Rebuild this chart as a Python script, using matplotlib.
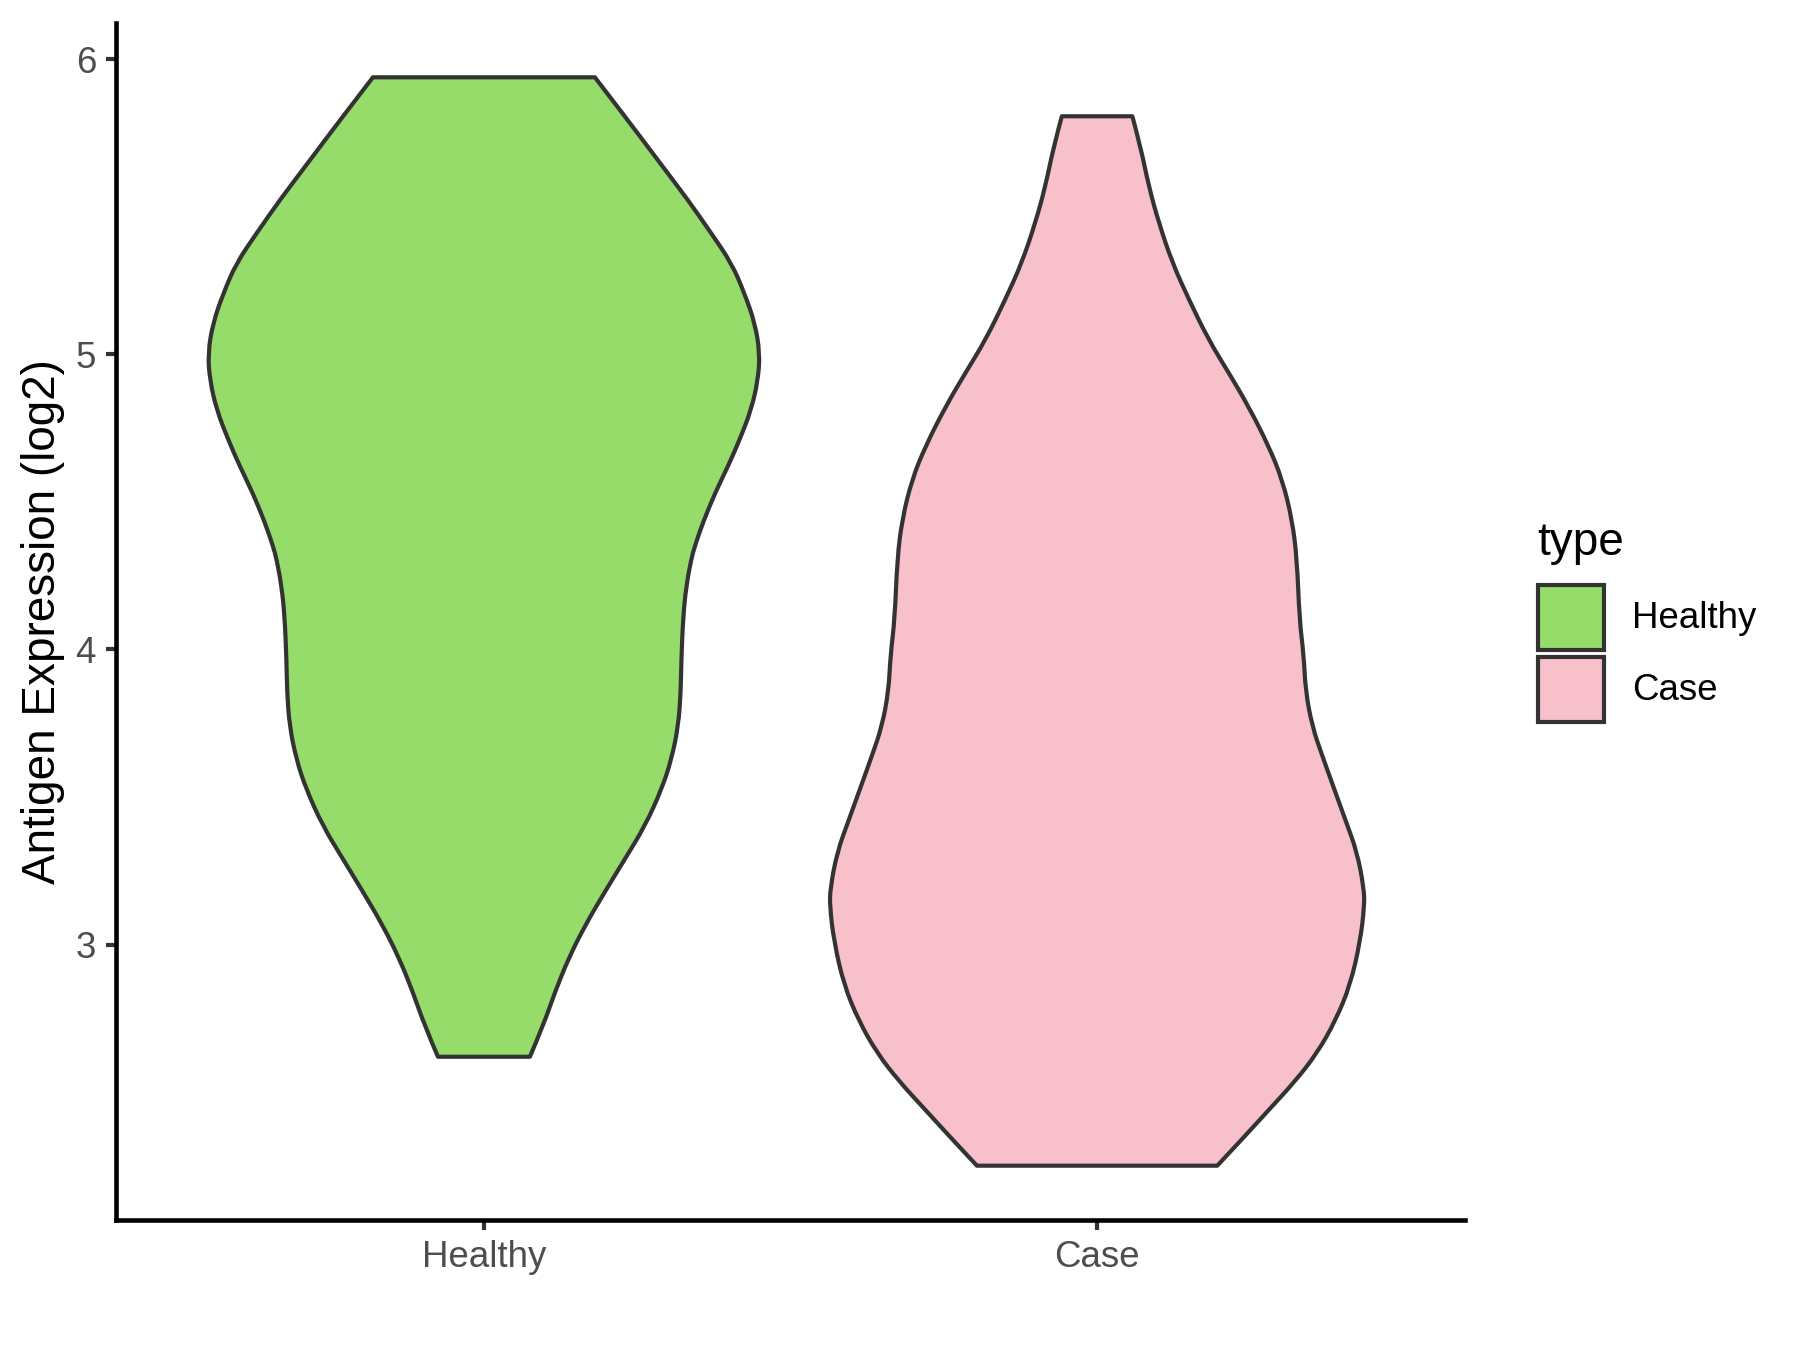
import matplotlib
matplotlib.use("Agg")
import matplotlib.pyplot as plt
from matplotlib.patches import Rectangle, PathPatch
from matplotlib.path import Path
import numpy as np

# ---------------- data ----------------
categories = ["Healthy", "Case"]
fill_colors = ["#95DC6B", "#F7C0CB"]
y_ticks = [3, 4, 5, 6]
y_label = "Antigen Expression (log2)"
legend_title = "type"

# violin outline: y value and half-width (in category units), top to bottom
healthy_y = [5.938, 5.792, 5.640, 5.522, 5.409, 5.308, 5.206, 5.105, 5.003,
             4.913, 4.812, 4.710, 4.620, 4.530, 4.429, 4.350, 4.305, 4.214,
             4.113, 3.967, 3.854, 3.741, 3.628, 3.527, 3.403, 3.290, 3.178,
             3.065, 2.953, 2.840, 2.727, 2.620]
healthy_halfwidth = [0.181, 0.235, 0.290, 0.333, 0.371, 0.404, 0.425, 0.442,
                     0.450, 0.447, 0.436, 0.417, 0.398, 0.377, 0.357, 0.344,
                     0.338, 0.330, 0.325, 0.322, 0.321, 0.317, 0.306, 0.290,
                     0.263, 0.230, 0.197, 0.165, 0.138, 0.116, 0.097, 0.075]

case_y = [5.806, 5.702, 5.567, 5.443, 5.308, 5.184, 5.048, 4.936, 4.823,
          4.688, 4.575, 4.440, 4.305, 4.102, 3.980, 3.859, 3.738, 3.641,
          3.531, 3.422, 3.313, 3.192, 3.131, 3.010, 2.864, 2.743, 2.633,
          2.537, 2.440, 2.342, 2.251]
case_halfwidth = [0.0575, 0.071, 0.0845, 0.101, 0.123, 0.150, 0.182, 0.215,
                  0.247, 0.280, 0.302, 0.318, 0.326, 0.330, 0.337, 0.340,
                  0.351, 0.367, 0.386, 0.405, 0.424, 0.435, 0.436, 0.429,
                  0.413, 0.389, 0.359, 0.323, 0.280, 0.237, 0.196]


def smooth_edge(pts):
    """Quadratic-Bezier path pieces through the first/last point, using the
    inner points as control points (rendering only)."""
    verts, codes = [], []
    n = len(pts)
    for i in range(1, n - 1):
        ctrl = pts[i]
        end = pts[i + 1] if i == n - 2 else (pts[i] + pts[i + 1]) / 2
        verts += [ctrl, end]
        codes += [Path.CURVE3, Path.CURVE3]
    return verts, codes


def violin_path(pos, ys, hw):
    ys = np.asarray(ys, float)
    hw = np.asarray(hw, float)
    left = np.column_stack([pos - hw, ys])            # top -> bottom
    right = np.column_stack([pos + hw, ys])[::-1]     # bottom -> top
    verts = [left[0]]
    codes = [Path.MOVETO]
    v, c = smooth_edge(left)
    verts += v; codes += c
    verts.append(right[0]); codes.append(Path.LINETO)  # flat bottom
    v, c = smooth_edge(right)
    verts += v; codes += c
    verts.append(left[0]); codes.append(Path.CLOSEPOLY)  # flat top
    return Path(np.array(verts), codes)


# ---------------- figure ----------------
plt.rcParams["font.family"] = ["Liberation Sans", "DejaVu Sans"]
W, H = 1800, 1350
fig = plt.figure(figsize=(6, 4.5), dpi=300)
ax = fig.add_axes([116 / W, 1 - 1220 / H, (1465 - 116) / W, (1220 - 23) / H])

outline = "#333333"
profiles = [(healthy_y, healthy_halfwidth), (case_y, case_halfwidth)]
for i, (ys, hw) in enumerate(profiles):
    patch = PathPatch(violin_path(i + 1, ys, hw), facecolor=fill_colors[i],
                      edgecolor=outline, linewidth=1.0, joinstyle="round",
                      transform=ax.transData)
    ax.add_patch(patch)

ax.set_xlim(0.4, 2.6)
ax.set_ylim(2.067, 6.122)
ax.set_xticks([1, 2])
ax.set_xticklabels(categories)
ax.set_yticks(y_ticks)
ax.set_yticklabels([str(t) for t in y_ticks])

for s in ["top", "right"]:
    ax.spines[s].set_visible(False)
for s in ["left", "bottom"]:
    ax.spines[s].set_linewidth(1.1)
    ax.spines[s].set_color("black")
    ax.spines[s].set_capstyle("projecting")

ax.tick_params(axis="both", direction="out", length=2.4, width=1.0,
               color="#333333", labelcolor="#4D4D4D", labelsize=8.8, pad=2.4)

ax.set_ylabel(y_label, fontsize=11, color="black")
ax.yaxis.set_label_coords((65 - 116) / (1465 - 116), 0.5)

# ---------------- legend (manual, ggplot-style) ----------------
fig.text(1537 / W, 1 - 555 / H, legend_title, fontsize=11, color="black",
         ha="left", va="baseline")
box_tops = [585, 657]
for i, cat in enumerate(categories):
    top = box_tops[i]
    rect = Rectangle((1538 / W, 1 - (top + 65) / H), 66 / W, 65 / H,
                     transform=fig.transFigure, facecolor=fill_colors[i],
                     edgecolor=outline, linewidth=1.0)
    fig.add_artist(rect)
    fig.text(1632 / W, 1 - (top + 33) / H, cat, fontsize=8.8, color="black",
             ha="left", va="center")

fig.savefig("out.png", dpi=300, facecolor="white")
